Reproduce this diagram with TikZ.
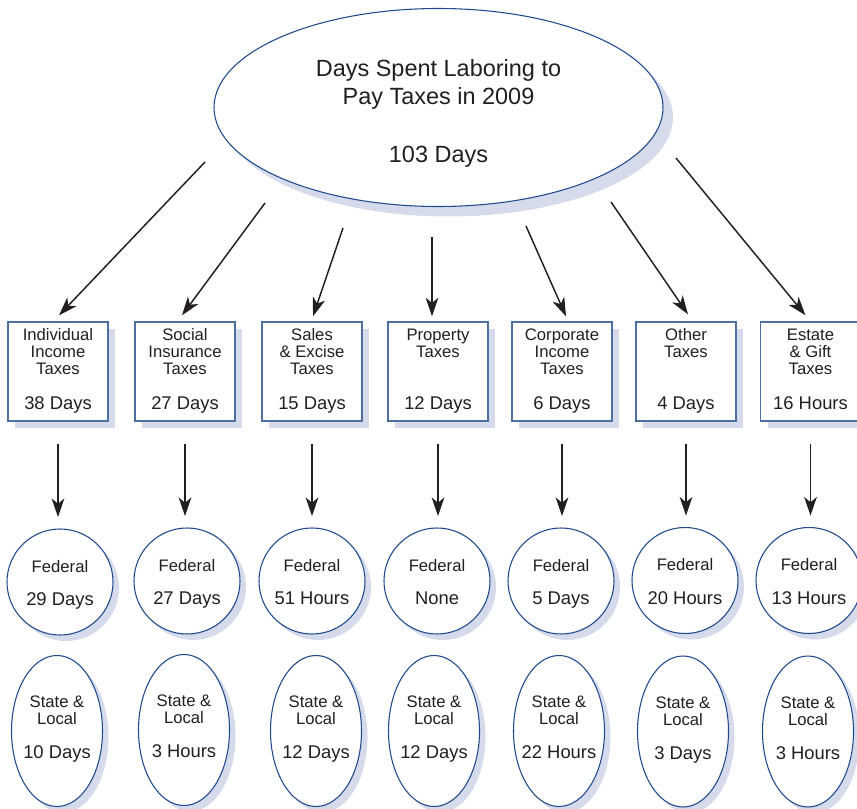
\documentclass[tikz,border=0pt]{standalone}
\usepackage{fontspec}
\setmainfont{Liberation Sans}
\usetikzlibrary{shapes.geometric,shadows,arrows.meta}

\definecolor{lineblue}{RGB}{31,74,140}
\definecolor{boxblue}{RGB}{78,112,160}
\definecolor{shadowgray}{RGB}{213,219,234}
\definecolor{inkblack}{RGB}{35,31,32}

\newcommand{\nmfont}{\fontsize{12.5pt}{12.75pt}\selectfont}
\newcommand{\valfont}{\fontsize{13.8pt}{16pt}\selectfont}
% top lines and bottom line, baselines fixed
\newcommand{\stacktext}[5]{\hbox to 0pt{\hss\vbox to \dimexpr#1+#2\relax{\hsize=90pt\centering\nmfont\rule{0pt}{#1}#4\par\vfill\valfont#5\rule[-#3]{0pt}{#3}\par}\hss}}
\newcommand{\taxlabel}[2]{\stacktext{10pt}{51.75pt}{4.75pt}{#1}{#2}}
\newcommand{\fedlabel}[1]{\stacktext{14.5pt}{25.1pt}{4pt}{Federal}{#1}}
\newcommand{\loclabel}[1]{\stacktext{10pt}{38.25pt}{7pt}{State \&\\Local}{#1}}

\begin{document}
\begin{tikzpicture}[x=0.75pt,y=-0.75pt,
  bigoval/.style={ellipse, draw=lineblue, line width=0.8pt, fill=white, inner sep=0pt,
    minimum width=336.75pt, minimum height=148.5pt, text=inkblack, align=center,
    font=\fontsize{17.6pt}{21pt}\selectfont,
    drop shadow={shadow xshift=7.5pt, shadow yshift=-7.5pt, fill=shadowgray, opacity=1}},
  taxbox/.style={rectangle, draw=boxblue, line width=1pt, fill=white, inner sep=0pt,
    minimum width=75pt, minimum height=74.25pt, text=inkblack,
    drop shadow={shadow xshift=5.6pt, shadow yshift=-5.6pt, fill=shadowgray, opacity=1}},
  fedcircle/.style={circle, draw=lineblue, line width=0.8pt, fill=white, inner sep=0pt,
    minimum size=79.5pt, text=inkblack,
    drop shadow={shadow xshift=4.5pt, shadow yshift=-4.5pt, fill=shadowgray, opacity=1}},
  locoval/.style={ellipse, draw=lineblue, line width=0.8pt, fill=white, inner sep=0pt,
    minimum width=68.25pt, minimum height=113.25pt, text=inkblack,
    drop shadow={shadow xshift=4.5pt, shadow yshift=-4.5pt, fill=shadowgray, opacity=1}},
  arr/.style={draw=inkblack, line width=1.1pt, -{Stealth[length=14pt,width=9.5pt,inset=4pt]}}]
\useasboundingbox (0,0) rectangle (857,809);

%Shape: Ellipse [total]
\node[bigoval] (root) at (438.5,107.5) {\rule{0pt}{22.4pt}Days Spent Laboring to\\Pay Taxes in 2009\\[22.5pt]103 Days};

%Shape: Boxes [by kind of tax]
\node[taxbox] (tax1) at (58,371.5) {\taxlabel{Individual\\Income\\Taxes}{38 Days}};
\node[taxbox] (tax2) at (185,371.5) {\taxlabel{Social\\Insurance\\Taxes}{27 Days}};
\node[taxbox] (tax3) at (312,371.5) {\taxlabel{Sales\\\& Excise\\Taxes}{15 Days}};
\node[taxbox] (tax4) at (438,371.5) {\taxlabel{Property\\Taxes}{12 Days}};
\node[taxbox] (tax5) at (562,371.5) {\taxlabel{Corporate\\Income\\Taxes}{6 Days}};
\node[taxbox] (tax6) at (686,371.5) {\taxlabel{Other\\Taxes}{4 Days}};
\node[taxbox] (tax7) at (810.5,371.5) {\taxlabel{Estate\\\& Gift\\Taxes}{16 Hours}};

%Shape: Circles [federal]
\node[fedcircle] (fed1) at (60,582) {\fedlabel{29 Days}};
\node[fedcircle] (fed2) at (187,581) {\fedlabel{27 Days}};
\node[fedcircle] (fed3) at (312,581) {\fedlabel{51 Hours}};
\node[fedcircle] (fed4) at (437,581) {\fedlabel{None}};
\node[fedcircle] (fed5) at (561,581) {\fedlabel{5 Days}};
\node[fedcircle] (fed6) at (685,580.5) {\fedlabel{20 Hours}};
\node[fedcircle] (fed7) at (809,580.5) {\fedlabel{13 Hours}};

%Shape: Ellipses [state and local]
\node[locoval] (loc1) at (57,731) {\loclabel{10 Days}};
\node[locoval] (loc2) at (184,730) {\loclabel{3 Hours}};
\node[locoval] (loc3) at (316,731) {\loclabel{12 Days}};
\node[locoval] (loc4) at (434,731) {\loclabel{12 Days}};
\node[locoval] (loc5) at (559,731) {\loclabel{22 Hours}};
\node[locoval] (loc6) at (683,731.5) {\loclabel{3 Days}};
\node[locoval] (loc7) at (808,731.5) {\loclabel{3 Hours}};

%Straight Lines [from the total]
\coordinate (from1) at (205,162);
\coordinate (from2) at (265,203);
\coordinate (from3) at (343,228);
\coordinate (from4) at (432,237);
\coordinate (from5) at (526,226);
\coordinate (from6) at (611,202);
\coordinate (from7) at (676,158);
\draw[arr] (from1) -- ([shift={(1,-6)}]tax1.north);
\draw[arr] (from2) -- ([shift={(-3,-6)}]tax2.north);
\draw[arr] (from3) -- ([shift={(1,-5)}]tax3.north);
\draw[arr] (from4) -- ([shift={(-6,-5)}]tax4.north);
\draw[arr] (from5) -- ([shift={(4,-5)}]tax5.north);
\draw[arr] (from6) -- ([shift={(2,-7)}]tax6.north);
\draw[arr] (from7) -- ([shift={(-5,-6)}]tax7.north);

%Straight Lines [down to federal]
\draw[arr, shorten <=16.5pt, shorten >=8.5pt] (tax1.south) -- (tax1.south |- fed1.north);
\draw[arr, shorten <=16.5pt, shorten >=8.5pt] (tax2.south) -- (tax2.south |- fed2.north);
\draw[arr, shorten <=16.5pt, shorten >=8.5pt] (tax3.south) -- (tax3.south |- fed3.north);
\draw[arr, shorten <=16.5pt, shorten >=8.5pt] (tax4.south) -- (tax4.south |- fed4.north);
\draw[arr, shorten <=16.5pt, shorten >=8.5pt] (tax5.south) -- (tax5.south |- fed5.north);
\draw[arr, shorten <=16.5pt, shorten >=8.5pt] (tax6.south) -- (tax6.south |- fed6.north);
\draw[arr, shorten <=16.5pt, shorten >=8.5pt] (tax7.south) -- (tax7.south |- fed7.north);

\end{tikzpicture}
\end{document}
